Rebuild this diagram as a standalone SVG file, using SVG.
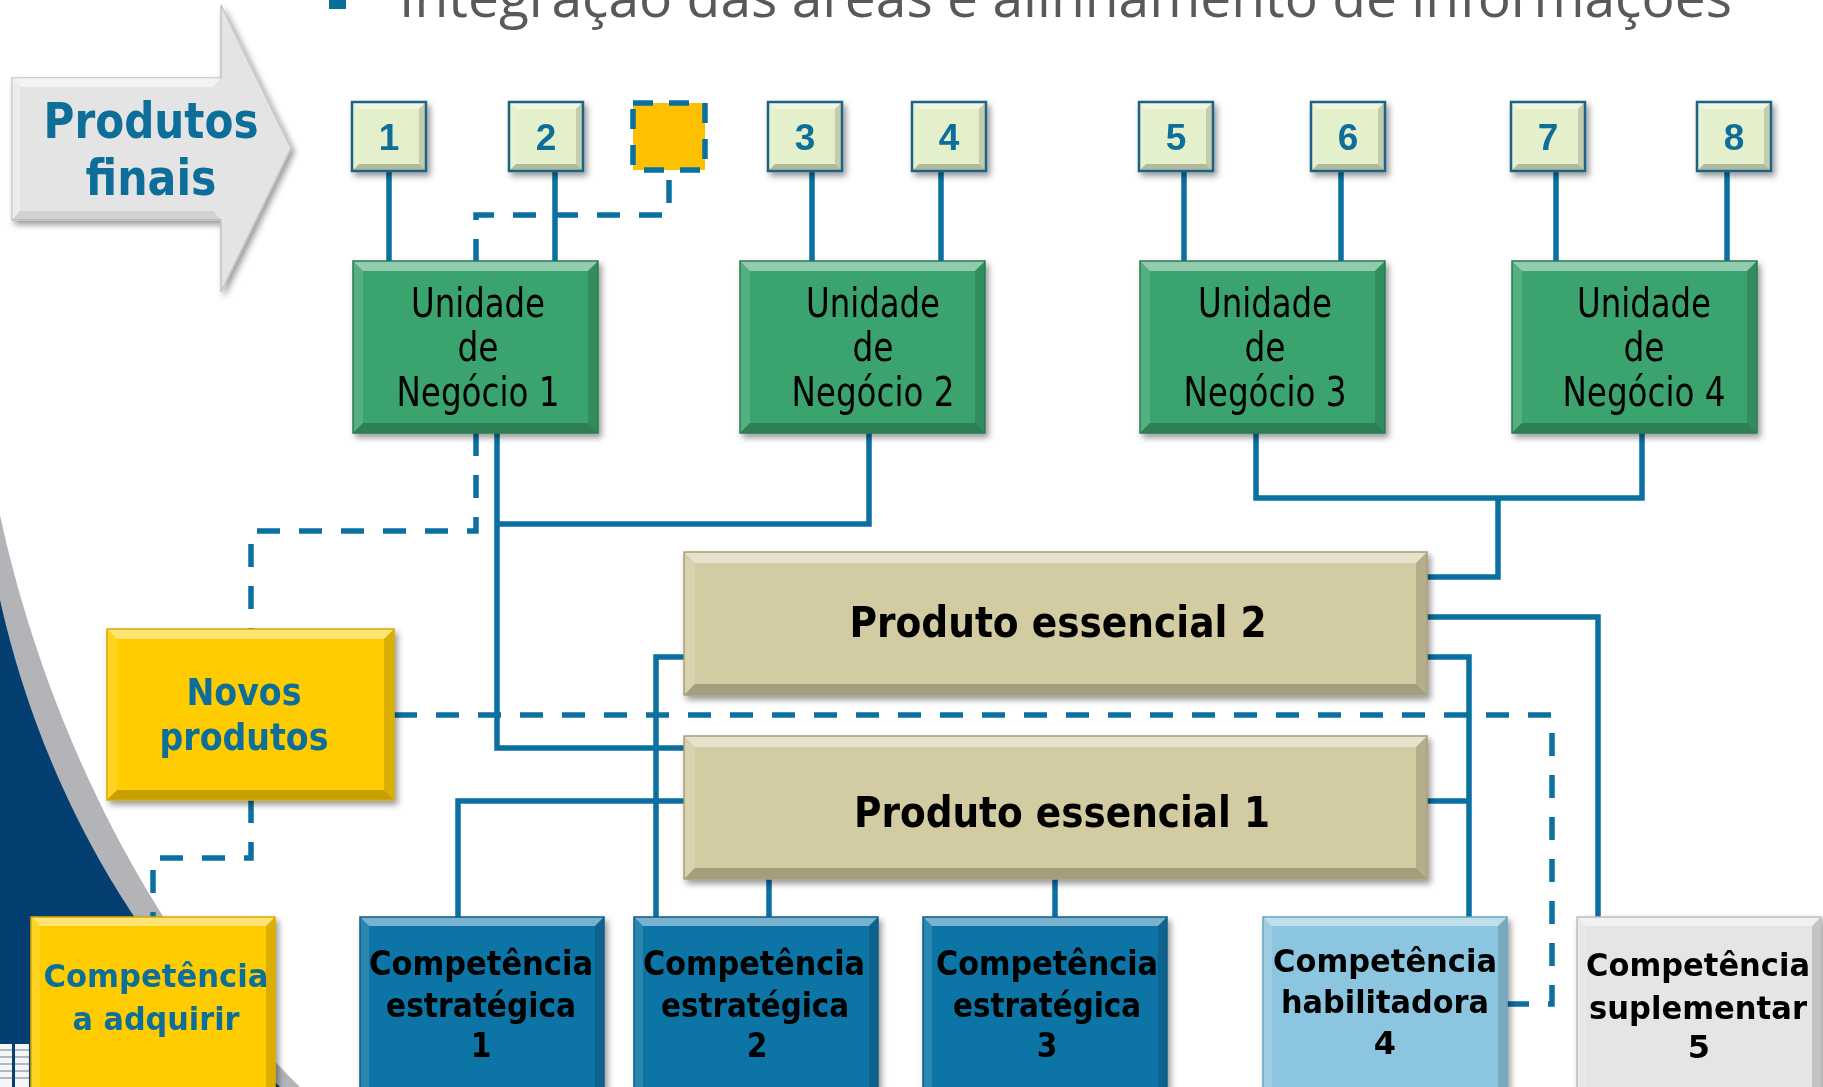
<svg xmlns="http://www.w3.org/2000/svg" xmlns:xlink="http://www.w3.org/1999/xlink" width="1823" height="1087" viewBox="0 0 1823 1087">
<style>
.hl{fill:#fff;fill-opacity:.45;stroke:none}
.hl2{fill:#fff;fill-opacity:.14;stroke:none}
.sh2{fill:#000;fill-opacity:.14;stroke:none}
.sh{fill:#000;fill-opacity:.22;stroke:none}
.ol{fill:none}
.num{fill:#E4EFCB;stroke:#1E6385;stroke-width:2.5}
.un{fill:#3AA36D;stroke:#2B7A50;stroke-width:1.5}
.pe{fill:#D3CBA2;stroke:#A89F78;stroke-width:1.5}
.ye{fill:#FFCC00;stroke:#D9A900;stroke-width:1.5}
.ce{fill:#0A74A6;stroke:#0A5C85;stroke-width:1.5}
.ch{fill:#8CC5DF;stroke:#6AA6C0;stroke-width:1.5}
.cs{fill:#E5E5E5;stroke:#BDBDBD;stroke-width:1.5}
.c{fill:none;stroke:#0A70A0;stroke-width:5.5;stroke-linejoin:miter}
.d{fill:none;stroke:#0A70A0;stroke-width:5.5;stroke-dasharray:23 19}
.tn{font-family:"Liberation Sans",Arial,sans-serif;font-weight:bold;font-size:37px;fill:#0B6E99;text-anchor:middle}
.tu{font-family:"DejaVu Sans Condensed","DejaVu Sans",sans-serif;font-size:40px;fill:#000;text-anchor:middle}
.tp{font-family:"DejaVu Sans Condensed","DejaVu Sans",sans-serif;font-weight:bold;font-size:43px;fill:#000;text-anchor:middle}
.tb{font-family:"DejaVu Sans",Verdana,sans-serif;font-weight:bold;font-size:32px;fill:#000;text-anchor:middle}
.tc{font-family:"DejaVu Sans Condensed","DejaVu Sans",sans-serif;font-weight:bold;font-size:33px;fill:#000;text-anchor:middle}
.blue{fill:#0B6E99}
.tbig{font-family:"DejaVu Sans",Verdana,sans-serif;font-weight:bold;font-size:49px;fill:#0B6E99;text-anchor:middle}
.tnp{font-family:"DejaVu Sans",Verdana,sans-serif;font-weight:bold;font-size:38px;fill:#0B6E99;text-anchor:middle}
</style>
<defs>
<filter id="shadow" x="-10%" y="-10%" width="130%" height="140%">
<feDropShadow dx="3" dy="4" stdDeviation="3" flood-color="#000" flood-opacity="0.4"/>
</filter>
<g id="bx-num">
<rect width="74" height="69" stroke="none"/>
<polygon class="hl" points="0,0 74,0 67,7 7,7"/>
<polygon class="hl2" points="0,0 7,7 7,62 0,69"/>
<polygon class="sh2" points="74,0 74,69 67,62 67,7"/>
<polygon class="sh" points="0,69 74,69 67,62 7,62"/>
<rect class="ol" width="74" height="69"/>
</g>
<g id="bx-un">
<rect width="245" height="172" stroke="none"/>
<polygon class="hl" points="0,0 245,0 235,10 10,10"/>
<polygon class="hl2" points="0,0 10,10 10,162 0,172"/>
<polygon class="sh2" points="245,0 245,172 235,162 235,10"/>
<polygon class="sh" points="0,172 245,172 235,162 10,162"/>
<rect class="ol" width="245" height="172"/>
</g>
<g id="bx-pe">
<rect width="743" height="143" stroke="none"/>
<polygon class="hl" points="0,0 743,0 732,11 11,11"/>
<polygon class="hl2" points="0,0 11,11 11,132 0,143"/>
<polygon class="sh2" points="743,0 743,143 732,132 732,11"/>
<polygon class="sh" points="0,143 743,143 732,132 11,132"/>
<rect class="ol" width="743" height="143"/>
</g>
<g id="bx-np">
<rect width="287" height="171" stroke="none"/>
<polygon class="hl" points="0,0 287,0 277,10 10,10"/>
<polygon class="hl2" points="0,0 10,10 10,161 0,171"/>
<polygon class="sh2" points="287,0 287,171 277,161 277,10"/>
<polygon class="sh" points="0,171 287,171 277,161 10,161"/>
<rect class="ol" width="287" height="171"/>
</g>
<g id="bx-big">
<rect width="244" height="180" stroke="none"/>
<polygon class="hl" points="0,0 244,0 235,9 9,9"/>
<polygon class="hl2" points="0,0 9,9 9,171 0,180"/>
<polygon class="sh2" points="244,0 244,180 235,171 235,9"/>
<polygon class="sh" points="0,180 244,180 235,171 9,171"/>
<rect class="ol" width="244" height="180"/>
</g>
</defs>

<rect width="1823" height="1087" fill="#fff"/>

<g id="background">
<path d="M0,515 C40,700 135,925 300,1087 L0,1087 Z" fill="#B2B4B8"/>
<path d="M0,600 C38,770 125,945 280,1087 L0,1087 Z" fill="#053F72"/>
<rect x="0" y="1044" width="12" height="43" fill="#F4F6F8"/>
<rect x="15" y="1044" width="14" height="43" fill="#F4F6F8"/>
<path d="M0,1050 H12 M0,1057 H12 M0,1064 H12 M0,1071 H12 M0,1078 H12 M15,1050 H29 M15,1057 H29 M15,1064 H29 M15,1071 H29 M15,1078 H29" stroke="#9AA4AE" stroke-width="1.5"/>
</g>

<g id="title">
<rect x="329" y="0" width="17" height="9" fill="#0B6E99"/>
<text x="399" y="17" font-family="'Open Sans','Liberation Sans',sans-serif" font-size="54" fill="#595959" textLength="1333" lengthAdjust="spacingAndGlyphs">Integração das áreas e alinhamento de informações</text>
</g>

<g id="connectors">
<path class="c" d="M389,171 V261"/>
<path class="c" d="M555,171 V261"/>
<path class="c" d="M812,171 V261"/>
<path class="c" d="M941,171 V261"/>
<path class="c" d="M1184,171 V261"/>
<path class="c" d="M1341,171 V261"/>
<path class="c" d="M1556,171 V261"/>
<path class="c" d="M1727,171 V261"/>
<path class="c" d="M497,433 V748 H684"/>
<path class="c" d="M869,433 V524 H497"/>
<path class="c" d="M1256,433 V498 H1642 V433"/>
<path class="c" d="M1498,498 V577 H1427"/>
<path class="c" d="M684,657 H656 V917"/>
<path class="c" d="M684,801 H458 V917"/>
<path class="c" d="M769,879 V917"/>
<path class="c" d="M1055,879 V917"/>
<path class="c" d="M1427,657 H1469 V917"/>
<path class="c" d="M1427,801 H1469"/>
<path class="c" d="M1427,617 H1598 V917"/>
<path class="d" d="M669,180 V215 H476 V261"/>
<path class="d" d="M476,433 V531 H251 V629"/>
<path class="d" d="M251,800 V858 H153 V917"/>
<path class="d" d="M394,715 H1552 V1004 H1506"/>
</g>

<g id="node-produtos-finais" filter="url(#shadow)">
<polygon points="12,78 221,78 221,5 291,148 221,292 221,220 12,220" fill="#E4E4E4" stroke="#C4C4C4" stroke-width="1.5"/>
<polygon points="12,78 221,78 213,87 20,87" fill="#fff" fill-opacity="0.55"/>
<polygon points="12,78 20,87 20,211 12,220" fill="#fff" fill-opacity="0.3"/>
<polygon points="12,220 221,220 213,211 20,211" fill="#000" fill-opacity="0.08"/>
<text class="tbig" x="151" y="138" textLength="215" lengthAdjust="spacingAndGlyphs">Produtos</text>
<text class="tbig" x="151" y="195" textLength="131" lengthAdjust="spacingAndGlyphs">finais</text>
</g>

<g id="node-1" filter="url(#shadow)"><use href="#bx-num" x="352" y="102" class="num"/><text class="tn" x="389" y="150">1</text></g>
<g id="node-2" filter="url(#shadow)"><use href="#bx-num" x="509" y="102" class="num"/><text class="tn" x="546" y="150">2</text></g>
<g id="node-novo-produto">
<rect x="633" y="103" width="72" height="67" fill="#FFC000" stroke="#0A70A0" stroke-width="5.5" stroke-dasharray="20 16"/>
</g>
<g id="node-3" filter="url(#shadow)"><use href="#bx-num" x="768" y="102" class="num"/><text class="tn" x="805" y="150">3</text></g>
<g id="node-4" filter="url(#shadow)"><use href="#bx-num" x="912" y="102" class="num"/><text class="tn" x="949" y="150">4</text></g>
<g id="node-5" filter="url(#shadow)"><use href="#bx-num" x="1139" y="102" class="num"/><text class="tn" x="1176" y="150">5</text></g>
<g id="node-6" filter="url(#shadow)"><use href="#bx-num" x="1311" y="102" class="num"/><text class="tn" x="1348" y="150">6</text></g>
<g id="node-7" filter="url(#shadow)"><use href="#bx-num" x="1511" y="102" class="num"/><text class="tn" x="1548" y="150">7</text></g>
<g id="node-8" filter="url(#shadow)"><use href="#bx-num" x="1697" y="102" class="num"/><text class="tn" x="1734" y="150">8</text></g>

<g id="node-un1" filter="url(#shadow)">
<use href="#bx-un" x="353" y="261" class="un"/>
<text class="tu" x="478" y="317" textLength="134" lengthAdjust="spacingAndGlyphs">Unidade</text>
<text class="tu" x="478" y="361" textLength="41" lengthAdjust="spacingAndGlyphs">de</text>
<text class="tu" x="478" y="406" textLength="163" lengthAdjust="spacingAndGlyphs">Negócio 1</text>
</g>
<g id="node-un2" filter="url(#shadow)">
<use href="#bx-un" x="740" y="261" class="un"/>
<text class="tu" x="873" y="317" textLength="134" lengthAdjust="spacingAndGlyphs">Unidade</text>
<text class="tu" x="873" y="361" textLength="41" lengthAdjust="spacingAndGlyphs">de</text>
<text class="tu" x="873" y="406" textLength="163" lengthAdjust="spacingAndGlyphs">Negócio 2</text>
</g>
<g id="node-un3" filter="url(#shadow)">
<use href="#bx-un" x="1140" y="261" class="un"/>
<text class="tu" x="1265" y="317" textLength="134" lengthAdjust="spacingAndGlyphs">Unidade</text>
<text class="tu" x="1265" y="361" textLength="41" lengthAdjust="spacingAndGlyphs">de</text>
<text class="tu" x="1265" y="406" textLength="163" lengthAdjust="spacingAndGlyphs">Negócio 3</text>
</g>
<g id="node-un4" filter="url(#shadow)">
<use href="#bx-un" x="1512" y="261" class="un"/>
<text class="tu" x="1644" y="317" textLength="134" lengthAdjust="spacingAndGlyphs">Unidade</text>
<text class="tu" x="1644" y="361" textLength="41" lengthAdjust="spacingAndGlyphs">de</text>
<text class="tu" x="1644" y="406" textLength="163" lengthAdjust="spacingAndGlyphs">Negócio 4</text>
</g>

<g id="node-pe2" filter="url(#shadow)">
<use href="#bx-pe" x="684" y="552" class="pe"/>
<text class="tp" x="1058" y="637" textLength="417" lengthAdjust="spacingAndGlyphs">Produto essencial 2</text>
</g>
<g id="node-pe1" filter="url(#shadow)">
<use href="#bx-pe" x="684" y="736" class="pe"/>
<text class="tp" x="1062" y="827" textLength="416" lengthAdjust="spacingAndGlyphs">Produto essencial 1</text>
</g>

<g id="node-novos-produtos" filter="url(#shadow)">
<use href="#bx-np" x="107" y="629" class="ye"/>
<text class="tnp" x="244" y="705" textLength="115" lengthAdjust="spacingAndGlyphs">Novos</text>
<text class="tnp" x="244" y="750" textLength="169" lengthAdjust="spacingAndGlyphs">produtos</text>
</g>

<g id="node-competencia-adquirir" filter="url(#shadow)">
<use href="#bx-big" x="31" y="917" class="ye"/>
<text class="tb blue" x="156" y="987" textLength="225" lengthAdjust="spacingAndGlyphs">Competência</text>
<text class="tb blue" x="156" y="1030" textLength="167" lengthAdjust="spacingAndGlyphs">a adquirir</text>
</g>
<g id="node-ce1" filter="url(#shadow)">
<use href="#bx-big" x="360" y="917" class="ce"/>
<text class="tc" x="481" y="975" textLength="224" lengthAdjust="spacingAndGlyphs">Competência</text>
<text class="tc" x="481" y="1017" textLength="190" lengthAdjust="spacingAndGlyphs">estratégica</text>
<text class="tc" x="481" y="1057">1</text>
</g>
<g id="node-ce2" filter="url(#shadow)">
<use href="#bx-big" x="634" y="917" class="ce"/>
<text class="tc" x="754" y="975" textLength="222" lengthAdjust="spacingAndGlyphs">Competência</text>
<text class="tc" x="755" y="1017" textLength="188" lengthAdjust="spacingAndGlyphs">estratégica</text>
<text class="tc" x="757" y="1057">2</text>
</g>
<g id="node-ce3" filter="url(#shadow)">
<use href="#bx-big" x="923" y="917" class="ce"/>
<text class="tc" x="1047" y="975" textLength="222" lengthAdjust="spacingAndGlyphs">Competência</text>
<text class="tc" x="1047" y="1017" textLength="188" lengthAdjust="spacingAndGlyphs">estratégica</text>
<text class="tc" x="1047" y="1057">3</text>
</g>
<g id="node-ch4" filter="url(#shadow)">
<use href="#bx-big" x="1263" y="917" class="ch"/>
<text class="tb" x="1385" y="972" textLength="224" lengthAdjust="spacingAndGlyphs">Competência</text>
<text class="tb" x="1385" y="1013" textLength="208" lengthAdjust="spacingAndGlyphs">habilitadora</text>
<text class="tb" x="1385" y="1054">4</text>
</g>
<g id="node-cs5" filter="url(#shadow)">
<use href="#bx-big" x="1577" y="917" class="cs"/>
<text class="tb" x="1698" y="976" textLength="224" lengthAdjust="spacingAndGlyphs">Competência</text>
<text class="tb" x="1698" y="1019" textLength="218" lengthAdjust="spacingAndGlyphs">suplementar</text>
<text class="tb" x="1699" y="1058">5</text>
</g>
</svg>
